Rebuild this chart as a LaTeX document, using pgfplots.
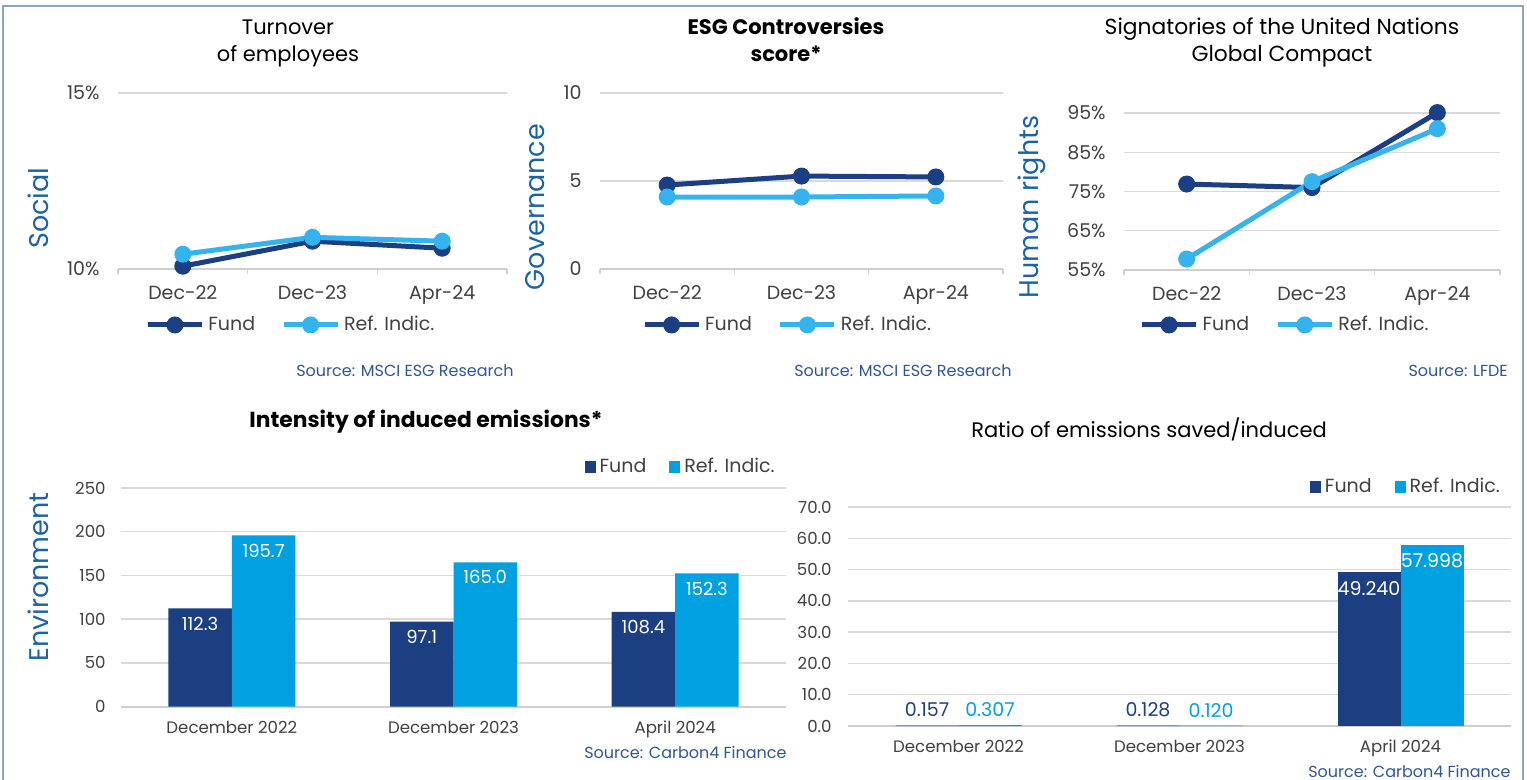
\documentclass[border=0pt]{standalone}
\usepackage{fontspec}
\setmainfont{Poppins}
\usepackage{pgfplots}
\pgfplotsset{compat=1.18}
\definecolor{fundline}{HTML}{1B3F84}
\definecolor{refline}{HTML}{35B3EE}
\definecolor{fundbar}{HTML}{1B3F80}
\definecolor{refbar}{HTML}{00A0E1}
\definecolor{ylab}{HTML}{1B63A6}
\definecolor{srccol}{HTML}{2E5597}
\definecolor{tickgray}{HTML}{404040}
\definecolor{gridgray}{HTML}{D9D9D9}
\definecolor{axisgray}{HTML}{CFCFCF}
\definecolor{framecol}{HTML}{8BA4C4}
\newcommand{\fsz}[1]{\fontsize{#1}{#1}\selectfont}
\pgfplotsset{
  esg/.style={
    scale only axis, clip=false,
    axis x line*=bottom, axis y line*=left,
    x axis line style={draw=axisgray, line width=1pt, -},
    y axis line style={draw=none},
    ymajorgrids, grid style={draw=gridgray, line width=0.75pt},
    ytick style={draw=none},
    tick label style={text=tickgray},
    yticklabel style={anchor=east, inner sep=0pt, xshift=-9pt},
    /pgf/number format/assume math mode=true,
    legend style={draw=none, fill=none, legend columns=2, anchor=center,
      text=tickgray, inner sep=0pt},
  },
  lineesg/.style={esg,
    xmin=-0.5, xmax=2.5, xtick={0,1,2}, xticklabels={Dec-22,Dec-23,Apr-24},
    minor xtick={-0.5,0.5,1.5,2.5}, major tick length=0pt, minor tick length=2.5pt,
    tick align=outside, xtick style={draw=axisgray, line width=0.75pt},
    xticklabel style={anchor=base, inner sep=0pt, yshift=-15.5pt},
    tick label style={font=\fsz{9.5}},
    legend style={font=\fsz{9.5}, /tikz/every even column/.append style={column sep=11pt}},
    legend image code/.code={\draw[##1, mark repeat=2, mark phase=2]
      plot coordinates {(0pt,0pt) (13.5pt,0pt) (27pt,0pt)};},
  },
  baresg/.style={esg,
    xmin=-0.5, xmax=2.5, xtick={0,1,2},
    xticklabels={December 2022,December 2023,April 2024},
    major tick length=0pt, xtick style={draw=none},
    xticklabel style={anchor=base, inner sep=0pt, yshift=-13.5pt},
    tick label style={font=\fsz{8.3}},
    legend style={font=\fsz{9.5}, /tikz/every even column/.append style={column sep=9.5pt}},
    legend image code/.code={\fill[##1] (0pt,-2.8pt) rectangle (5.5pt,2.8pt);},
  },
  fundl/.style={color=fundline, line width=2.5pt, mark=*, mark size=4pt,
    mark options={line width=0.5pt}},
  refl/.style={color=refline, line width=2.5pt, mark=*, mark size=4pt,
    mark options={line width=0.5pt}},
  % one bar series: side shift, label colour, label anchor, label yshift, decimals
  barser/.style n args={5}{ybar, bar shift=#1, draw=none,
    nodes near coords, nodes near coords style={text=#2, anchor=#3, inner sep=0pt,
      xshift=#1, yshift=#4,
      /pgf/number format/.cd, fixed, fixed zerofill, precision=#5}},
}
\begin{document}
\begin{tikzpicture}
% ---- Social: turnover
\begin{axis}[lineesg, at={(59pt,-134.5pt)}, anchor=south west,
  width=194.5pt, height=88pt, ymin=10, ymax=15,
  ytick={10,15}, yticklabels={10\%,15\%},
  legend style={at={(0.447,-0.318)}}]
  \addplot[fundl] coordinates {(0,10.08) (1,10.79) (2,10.59)};
  \addlegendentry{Fund}
  \addplot[refl] coordinates {(0,10.42) (1,10.90) (2,10.79)};
  \addlegendentry{Ref. Indic.}
\end{axis}
% ---- Governance: controversies
\begin{axis}[lineesg, at={(300pt,-134.5pt)}, anchor=south west,
  width=201.5pt, height=88pt, ymin=0, ymax=10, ytick={0,5,10},
  legend style={at={(0.468,-0.318)}}]
  \addplot[fundl] coordinates {(0,4.77) (1,5.28) (2,5.23)};
  \addlegendentry{Fund}
  \addplot[refl] coordinates {(0,4.09) (1,4.09) (2,4.15)};
  \addlegendentry{Ref. Indic.}
\end{axis}
% ---- Human rights: UN Global Compact
\begin{axis}[lineesg, at={(562pt,-135pt)}, anchor=south west,
  width=188pt, height=78.5pt, ymin=55, ymax=95,
  ytick={55,65,75,85,95}, yticklabels={55\%,65\%,75\%,85\%,95\%},
  legend style={at={(0.431,-0.35)}}]
  \addplot[fundl] coordinates {(0,76.9) (1,76.0) (2,95.1)};
  \addlegendentry{Fund}
  \addplot[refl] coordinates {(0,57.8) (1,77.5) (2,91.0)};
  \addlegendentry{Ref. Indic.}
\end{axis}
% ---- Environment: intensity of induced emissions
\begin{axis}[baresg, at={(60.5pt,-353.25pt)}, anchor=south west,
  width=332.5pt, height=109.25pt, ymin=0, ymax=250, ytick={0,50,...,250},
  yticklabel style={xshift=1.5pt}, bar width=31.75pt,
  every node near coord/.append style={font=\fsz{9}},
  legend style={at={(0.843,1.096)}}]
  \addplot[barser={-15.875pt}{white}{north}{-4pt}{1}, fill=fundbar]
    coordinates {(0,112.3) (1,97.1) (2,108.4)};
  \addlegendentry{Fund}
  \addplot[barser={15.875pt}{white}{north}{-4pt}{1}, fill=refbar]
    coordinates {(0,195.7) (1,165.0) (2,152.3)};
  \addlegendentry{Ref. Indic.}
\end{axis}
% ---- Ratio of emissions saved/induced
\begin{axis}[baresg, at={(424pt,-363pt)}, anchor=south west,
  width=331.5pt, height=109.5pt, ymin=0, ymax=70, ytick={0,10,...,70},
  yticklabel style={xshift=1pt, /pgf/number format/.cd, fixed, fixed zerofill, precision=1},
  xticklabel style={yshift=0.5pt}, bar width=31.5pt,
  every node near coord/.append style={font=\fsz{9.5}},
  legend style={at={(0.843,1.091)}}]
  \addplot[barser={-15.75pt}{fundbar}{south}{4pt}{3}, fill=fundbar]
    coordinates {(0,0.157) (1,0.128)};
  \addlegendentry{Fund}
  \addplot[barser={15.75pt}{refbar}{south}{4pt}{3}, fill=refbar]
    coordinates {(0,0.307) (1,0.120)};
  \addlegendentry{Ref. Indic.}
  \addplot[forget plot, barser={-15.75pt}{white}{north}{-4.5pt}{3}, fill=fundbar]
    coordinates {(2,49.240)};
  \addplot[forget plot, barser={15.75pt}{white}{north}{-4.5pt}{3}, fill=refbar]
    coordinates {(2,57.998)};
\end{axis}
% ---- titles, side labels, sources (1 unit = 1 px of the reference)
\begin{scope}[x=0.5pt, y=-0.5pt]
  \draw[framecol, line width=0.9pt] (3,800) -- (3,6) -- (1523,6) -- (1523,800);
  \begin{scope}[every node/.style={anchor=base, inner sep=0pt, font=\fsz{10.5}}]
    \node at (288,35) {Turnover};
    \node at (288,62) {of employees};
    \node[font=\fsz{10.5}\bfseries] at (786,35) {ESG Controversies};
    \node[font=\fsz{10.5}\bfseries] at (786,62) {score*};
    \node[font=\fsz{10.9}] at (1282,35) {Signatories of the United Nations};
    \node[font=\fsz{10.9}] at (1282,62) {Global Compact};
    \node[font=\fsz{10.9}\bfseries] at (426,428) {Intensity of induced emissions*};
    \node[font=\fsz{10.5}] at (1149,438) {Ratio of emissions saved/induced};
  \end{scope}
  \begin{scope}[every node/.style={rotate=90, inner sep=0pt, text=ylab, font=\fsz{13.5}}]
    \node at (38,208) {Social};
    \node at (535,207) {Governance};
    \node at (1032,207) {Human rights};
    \node at (38,577) {Environment};
  \end{scope}
  \begin{scope}[every node/.style={anchor=base east, inner sep=0pt, text=srccol, font=\fsz{8}}]
    \node at (514,377) {Source: MSCI ESG Research};
    \node at (1012,377) {Source: MSCI ESG Research};
    \node at (1508,377) {Source: LFDE};
    \node at (787,758) {Source: Carbon4 Finance};
    \node at (1511,777) {Source: Carbon4 Finance};
  \end{scope}
\end{scope}
\pgfresetboundingbox
\path[use as bounding box] (0pt,0pt) rectangle (763.5pt,-390pt);
\end{tikzpicture}
\end{document}
